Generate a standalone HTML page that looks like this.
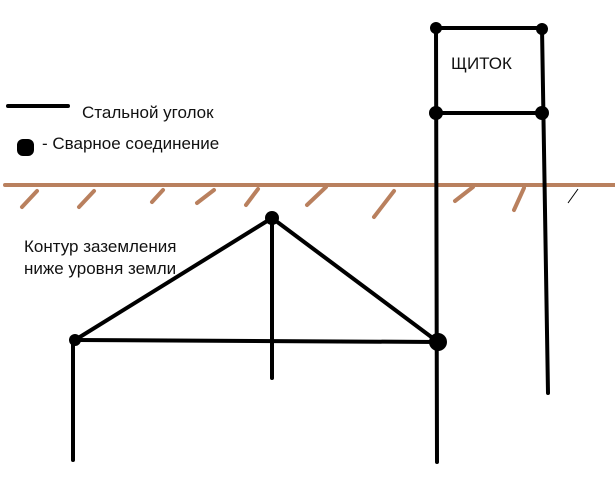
<!DOCTYPE html>
<html><head><meta charset="utf-8"><style>body{margin:0;background:#fff}svg{display:block}text{font-family:"Liberation Sans",sans-serif;font-size:17px;fill:#111}</style></head><body>
<svg width="615" height="485" viewBox="0 0 615 485">
<g stroke="#b9805e" stroke-width="4" stroke-linecap="round">
<line x1="5" y1="185" x2="615" y2="185"/>
<line x1="22" y1="207" x2="37" y2="191"/>
<line x1="79" y1="207" x2="94" y2="191"/>
<line x1="152" y1="202" x2="163" y2="190"/>
<line x1="197" y1="203" x2="214" y2="190"/>
<line x1="246" y1="205" x2="258" y2="189"/>
<line x1="307" y1="205" x2="326" y2="187"/>
<line x1="374" y1="217" x2="394" y2="191"/>
<line x1="455" y1="201" x2="473" y2="187"/>
<line x1="514" y1="210" x2="524" y2="188"/>
</g>
<line x1="568" y1="203" x2="578" y2="189" stroke="#000" stroke-width="1"/>
<g stroke="#000" stroke-width="4" stroke-linecap="round" fill="none">
<line x1="8" y1="106" x2="68" y2="106"/>
<line x1="436" y1="28" x2="437" y2="462"/>
<line x1="542" y1="28" x2="548" y2="393"/>
<line x1="436" y1="28" x2="542" y2="28"/>
<line x1="436" y1="113" x2="542" y2="113"/>
<line x1="75" y1="340" x2="272" y2="218"/>
<line x1="272" y1="218" x2="438" y2="342"/>
<line x1="75" y1="340" x2="438" y2="342"/>
<line x1="272" y1="218" x2="272" y2="378"/>
<line x1="73" y1="340" x2="73" y2="460"/>
</g>
<g fill="#000">
<circle cx="436" cy="28" r="6"/><circle cx="542" cy="29" r="6"/>
<circle cx="436" cy="113" r="7"/><circle cx="542" cy="113" r="7"/>
<circle cx="272" cy="218" r="7"/><circle cx="75" cy="340" r="6"/><circle cx="438" cy="342" r="9"/>
<rect x="17" y="139" width="17" height="17" rx="6"/>
</g>
<text x="82" y="118">Стальной уголок</text>
<text x="42" y="149">- Сварное соединение</text>
<text x="451" y="69">ЩИТОК</text>
<text x="24" y="252">Контур заземления</text>
<text x="24" y="274">ниже уровня земли</text>
</svg>
</body></html>
